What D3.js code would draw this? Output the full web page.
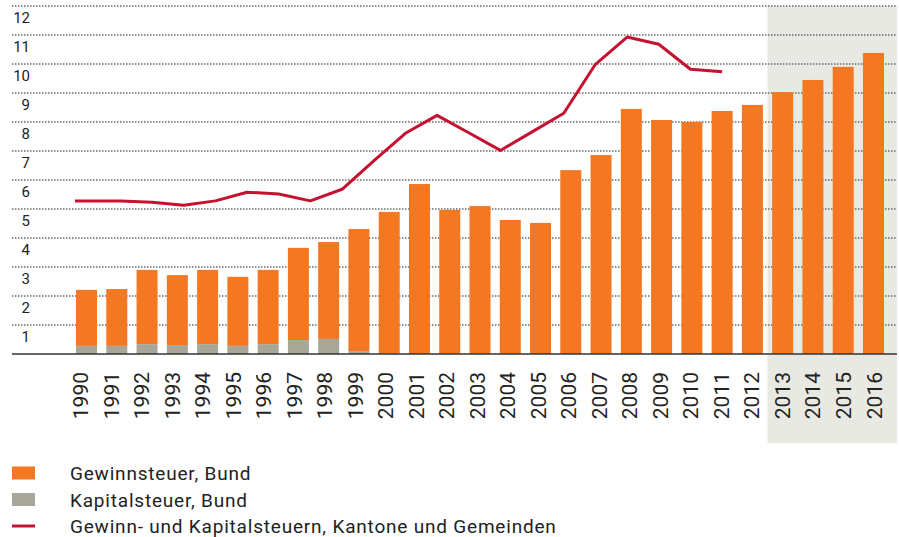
<!DOCTYPE html>
<html>
<head>
<meta charset="utf-8">
<script src="https://cdn.jsdelivr.net/npm/d3@7"></script>
<style>
  body { margin: 0; background: #fff; }
  text { font-family: Roboto, "Liberation Sans", sans-serif; fill: #222; }
  .year { font-family: "Liberation Sans Narrow", "Roboto", sans-serif; }
</style>
</head>
<body>
<svg id="chart"></svg>
<script>
const years = [1990, 1991, 1992, 1993, 1994, 1995, 1996, 1997, 1998, 1999, 2000,
  2001, 2002, 2003, 2004, 2005, 2006, 2007, 2008, 2009, 2010, 2011, 2012, 2013,
  2014, 2015, 2016];

// Gewinnsteuer, Bund (Mrd. CHF)
const gewinnBund = [1.93, 1.96, 2.56, 2.41, 2.56, 2.38, 2.56, 3.18, 3.34, 4.21, 4.87,
  5.86, 4.97, 5.10, 4.62, 4.52, 6.34, 6.86, 8.45, 8.07, 8.00, 8.38, 8.59, 9.03,
  9.45, 9.90, 10.38];

// Kapitalsteuer, Bund
const kapitalBund = [0.28, 0.28, 0.34, 0.31, 0.34, 0.28, 0.34, 0.48, 0.52, 0.10, 0.03,
  0, 0, 0, 0, 0, 0, 0, 0, 0, 0, 0, 0, 0, 0, 0, 0];

// Gewinn- und Kapitalsteuern, Kantone und Gemeinden (1990-2011)
const lineYears = years.slice(0, 22);
const kantone = [5.28, 5.28, 5.28, 5.23, 5.13, 5.28, 5.58, 5.52, 5.28, 5.68, 6.66,
  7.61, 8.23, 7.63, 7.02, 7.66, 8.30, 9.99, 10.93, 10.68, 9.82, 9.73];

const yTicks = [1, 2, 3, 4, 5, 6, 7, 8, 9, 10, 11, 12];
const forecastFrom = 2013;

const legendItems = [
  { label: "Gewinnsteuer, Bund", type: "rect", color: "#f47721" },
  { label: "Kapitalsteuer, Bund", type: "rect", color: "#a8a698" },
  { label: "Gewinn- und Kapitalsteuern, Kantone und Gemeinden", type: "line", color: "#c41230" }
];

const width = 899,
  height = 537;

const svg = d3.select("#chart").attr("width", width).attr("height", height);

const x = d3
  .scaleBand()
  .domain(years)
  .range([71.4, 888.6])
  .paddingInner(0.306)
  .paddingOuter(0.153);

const y = d3.scaleLinear().domain([0, 12]).range([354, 6]);

// the line sits on its own slightly wider year spacing in the original
const lineX = d3
  .scaleLinear()
  .domain([1990, 2011])
  .range([57, x(2011) + x.bandwidth() / 2]);

const labelX = d3.scalePoint().domain(years).range([80.5, 874]);

// shaded forecast area
const shadeLeft = x(forecastFrom) - (x.step() * x.paddingInner()) / 2;
svg
  .append("rect")
  .attr("x", shadeLeft)
  .attr("y", y(12))
  .attr("width", 897 - shadeLeft)
  .attr("height", 443 - y(12))
  .attr("fill", "#e8e9e3");

// dotted grid
svg
  .append("g")
  .selectAll("line")
  .data(yTicks)
  .join("line")
  .attr("x1", 12)
  .attr("x2", 897)
  .attr("y1", (d) => y(d))
  .attr("y2", (d) => y(d))
  .attr("stroke", "#6a6a6a")
  .attr("stroke-width", 1.5)
  .attr("stroke-dasharray", "1.5,1.5");

svg
  .append("g")
  .selectAll("text")
  .data(yTicks)
  .join("text")
  .attr("x", 30)
  .attr("y", (d) => y(d) + 16.5)
  .attr("text-anchor", "end")
  .attr("font-size", 15)
  .text((d) => d);

// stacked bars
const stack = years.map((yr, i) => ({ year: yr, kap: kapitalBund[i], gew: gewinnBund[i] }));

svg
  .append("g")
  .selectAll("rect")
  .data(stack)
  .join("rect")
  .attr("x", (d) => x(d.year))
  .attr("y", (d) => y(d.kap + d.gew))
  .attr("width", x.bandwidth())
  .attr("height", (d) => y(d.kap) - y(d.kap + d.gew))
  .attr("fill", "#f47721");

svg
  .append("g")
  .selectAll("rect")
  .data(stack.filter((d) => d.kap > 0))
  .join("rect")
  .attr("x", (d) => x(d.year))
  .attr("y", (d) => y(d.kap))
  .attr("width", x.bandwidth())
  .attr("height", (d) => y(0) - y(d.kap))
  .attr("fill", "#a8a698");

// baseline
svg
  .append("line")
  .attr("x1", 12)
  .attr("x2", 897)
  .attr("y1", y(0))
  .attr("y2", y(0))
  .attr("stroke", "#333")
  .attr("stroke-width", 1.5);

// year labels
svg
  .append("g")
  .selectAll("text")
  .data(years)
  .join("text")
  .attr("class", "year")
  .attr("transform", (d) => `translate(${labelX(d) + 7.5},372) rotate(-90)`)
  .attr("text-anchor", "end")
  .attr("font-size", 21)
  .text((d) => d);

// cantonal line, clipped at the first bar
svg
  .append("clipPath")
  .attr("id", "lineClip")
  .append("rect")
  .attr("x", x(1990) - 1)
  .attr("y", 0)
  .attr("width", width)
  .attr("height", height);

const line = d3
  .line()
  .x((d, i) => lineX(lineYears[i]))
  .y((d) => y(d));

svg
  .append("path")
  .datum(kantone)
  .attr("clip-path", "url(#lineClip)")
  .attr("d", line)
  .attr("fill", "none")
  .attr("stroke", "#c41230")
  .attr("stroke-width", 3)
  .attr("stroke-linejoin", "round");

// legend
const legend = svg
  .append("g")
  .selectAll("g")
  .data(legendItems)
  .join("g")
  .attr("transform", (d, i) => `translate(12,${473 + i * 26.5})`);

legend
  .filter((d) => d.type === "rect")
  .append("rect")
  .attr("x", 0)
  .attr("y", -6.5)
  .attr("width", 23)
  .attr("height", 13)
  .attr("fill", (d) => d.color);

legend
  .filter((d) => d.type === "line")
  .append("line")
  .attr("x1", 0)
  .attr("x2", 23)
  .attr("y1", 0)
  .attr("y2", 0)
  .attr("stroke", (d) => d.color)
  .attr("stroke-width", 3);

legend
  .append("text")
  .attr("x", 58)
  .attr("y", 7)
  .attr("font-size", 19)
  .attr("letter-spacing", 0.8)
  .text((d) => d.label);
</script>
</body>
</html>
